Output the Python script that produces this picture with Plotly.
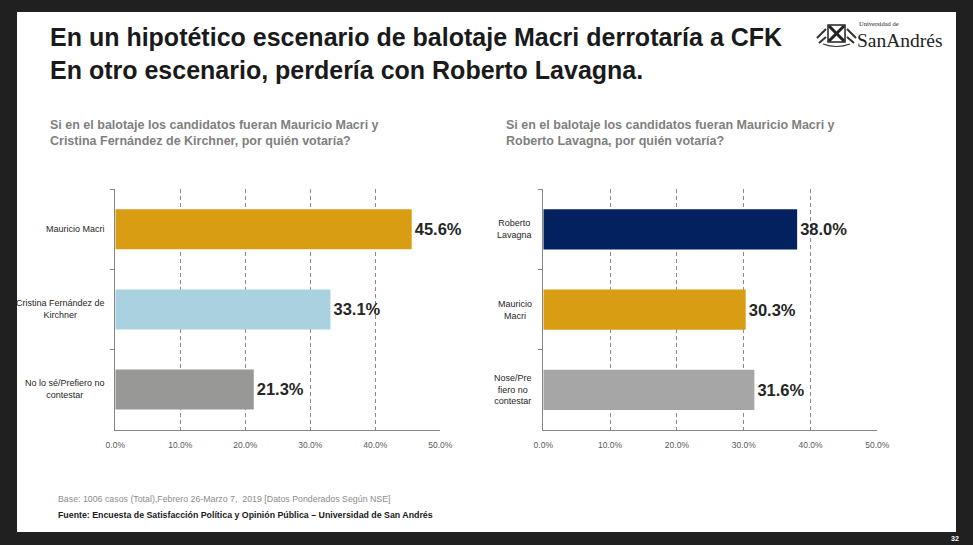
import plotly.graph_objects as go

W, H = 973, 545

# ---- data ----
left_categories = ["Mauricio Macri", "Cristina Fernández de<br>Kirchner", "No lo sé/Prefiero no<br>contestar"]
left_values = [45.6, 33.1, 21.3]
left_colors = ["#D99D13", "#AAD1E0", "#989896"]

right_categories = ["Roberto<br>Lavagna", "Mauricio<br>Macri", "Nose/Pre<br>fiero no<br>contestar"]
right_values = [38.0, 30.3, 31.6]
right_colors = ["#03215E", "#D99D13", "#A6A6A6"]

x_ticks = [0, 10, 20, 30, 40, 50]
x_tick_labels = ["0.0%", "10.0%", "20.0%", "30.0%", "40.0%", "50.0%"]

title_line1 = "En un hipotético escenario de balotaje Macri derrotaría a CFK"
title_line2 = "En otro escenario, perdería con Roberto Lavagna."
left_question = "Si en el balotaje los candidatos fueran Mauricio Macri y<br>Cristina Fernández de Kirchner, por quién votaría?"
right_question = "Si en el balotaje los candidatos fueran Mauricio Macri y<br>Roberto Lavagna, por quién votaría?"
base_note = "Base: 1006 casos (Total),Febrero 26-Marzo 7,  2019 [Datos Ponderados Según NSE]"
source_note = "Fuente: Encuesta de Satisfacción Política y Opinión Pública – Universidad de San Andrés"
page_number = "32"

SANS = "Liberation Sans, Arial, sans-serif"
SERIF = "Liberation Serif, DejaVu Serif, serif"


def px(x):
    return x / W


def py(y):
    return 1 - y / H


fig = go.Figure()

fig.add_trace(go.Bar(
    y=left_categories, x=left_values, orientation="h",
    marker=dict(color=left_colors, line=dict(width=0)),
    text=[f"{v:.1f}%" for v in left_values], textposition="outside",
    textfont=dict(family=SANS, size=16.5, color="#262626", weight="bold"),
    cliponaxis=False, constraintext="none", xaxis="x", yaxis="y",
    hoverinfo="skip", showlegend=False,
))
fig.add_trace(go.Bar(
    y=right_categories, x=right_values, orientation="h",
    marker=dict(color=right_colors, line=dict(width=0)),
    text=[f"{v:.1f}%" for v in right_values], textposition="outside",
    textfont=dict(family=SANS, size=16.5, color="#262626", weight="bold"),
    cliponaxis=False, constraintext="none", xaxis="x2", yaxis="y2",
    hoverinfo="skip", showlegend=False,
))

xaxis_common = dict(
    range=[0, 50], tickvals=x_ticks, ticktext=x_tick_labels,
    showgrid=True, gridcolor="#8A8A8A", gridwidth=1, griddash="4px,3px",
    zeroline=False, showline=True, linecolor="#868686", linewidth=1,
    ticks="", ticklabelstandoff=7, automargin=False,
    tickfont=dict(family=SANS, size=8.5, color="#595959"),
    fixedrange=True,
)
yaxis_common = dict(
    type="category", autorange="reversed", showticklabels=False,
    ticks="outside", tickson="boundaries", ticklen=4, tickcolor="#868686",
    showline=True, linecolor="#868686", linewidth=1, showgrid=False,
    zeroline=False, fixedrange=True, automargin=False,
)

fig.update_layout(
    width=W, height=H, margin=dict(l=0, r=0, t=0, b=0, pad=0, autoexpand=False),
    paper_bgcolor="#202020", plot_bgcolor="rgba(0,0,0,0)",
    bargap=0.5,
    xaxis=dict(domain=[px(115.3), px(440.3)], anchor="y", **xaxis_common),
    yaxis=dict(domain=[py(429.5), py(189.3)], anchor="x", **yaxis_common),
    xaxis2=dict(domain=[px(543.3), px(877.3)], anchor="y2", **xaxis_common),
    yaxis2=dict(domain=[py(430), py(189.3)], anchor="x2", **yaxis_common),
    font=dict(family=SANS),
)

shapes = [
    dict(type="rect", xref="paper", yref="paper", x0=px(17), x1=px(956), y0=py(532), y1=py(12),
         fillcolor="white", line=dict(width=0), layer="below"),
    # logo emblem (decorative)
    dict(type="rect", xref="paper", yref="paper", x0=px(828), x1=px(845), y0=py(42), y1=py(25),
         fillcolor="white", line=dict(color="#222", width=1.5)),
    dict(type="line", xref="paper", yref="paper", x0=px(829), x1=px(844), y0=py(41), y1=py(26),
         line=dict(color="#222", width=3)),
    dict(type="line", xref="paper", yref="paper", x0=px(829), x1=px(844), y0=py(26), y1=py(41),
         line=dict(color="#222", width=3)),
    dict(type="path", xref="paper", yref="paper",
         path=f"M {px(817)} {py(38)} L {px(826)} {py(29)} M {px(819)} {py(43)} L {px(826)} {py(37)} "
              f"M {px(856)} {py(38)} L {px(847)} {py(29)} M {px(854)} {py(43)} L {px(847)} {py(37)}",
         line=dict(color="#333", width=2)),
    dict(type="path", xref="paper", yref="paper",
         path=f"M {px(823)} {py(44)} Q {px(836.5)} {py(49)} {px(850)} {py(44)}",
         line=dict(color="#333", width=1.2)),
]
fig.update_layout(shapes=shapes)

ann = []
ann.append(dict(text=f"<b>{title_line1}</b>", x=px(48), y=py(37), xref="paper", yref="paper",
                xanchor="left", yanchor="middle", showarrow=False,
                font=dict(family=SANS, size=25, color="#1A1A1A")))
ann.append(dict(text=f"<b>{title_line2}</b>", x=px(48), y=py(70), xref="paper", yref="paper",
                xanchor="left", yanchor="middle", showarrow=False,
                font=dict(family=SANS, size=25, color="#1A1A1A")))
ann.append(dict(text=f"<b>{left_question}</b>", x=px(48), y=py(133), xref="paper", yref="paper",
                xanchor="left", yanchor="middle", align="left", showarrow=False,
                font=dict(family=SANS, size=12.5, color="#7F7F7F")))
ann.append(dict(text=f"<b>{right_question}</b>", x=px(504), y=py(133), xref="paper", yref="paper",
                xanchor="left", yanchor="middle", align="left", showarrow=False,
                font=dict(family=SANS, size=12.5, color="#7F7F7F")))
for c in left_categories:
    ann.append(dict(text=c, x=0, y=c, xref="x domain", yref="y", xanchor="right", yanchor="middle",
                    xshift=-8, align="center", showarrow=False,
                    font=dict(family=SANS, size=9, color="#262626")))
for c in right_categories:
    ann.append(dict(text=c, x=0, y=c, xref="x2 domain", yref="y2", xanchor="right", yanchor="middle",
                    xshift=-9, align="center", showarrow=False,
                    font=dict(family=SANS, size=9, color="#262626")))
ann.append(dict(text=base_note, x=px(56), y=py(499), xref="paper", yref="paper",
                xanchor="left", yanchor="middle", showarrow=False,
                font=dict(family=SANS, size=8.8, color="#8C8C8C")))
ann.append(dict(text=f"<b>{source_note}</b>", x=px(56), y=py(515), xref="paper", yref="paper",
                xanchor="left", yanchor="middle", showarrow=False,
                font=dict(family=SANS, size=8.8, color="#1A1A1A")))
ann.append(dict(text=f"<b>{page_number}</b>", x=px(955), y=py(538), xref="paper", yref="paper",
                xanchor="center", yanchor="middle", showarrow=False,
                font=dict(family=SANS, size=7, color="#FFFFFF")))
ann.append(dict(text="Universidad de", x=px(857), y=py(23.5), xref="paper", yref="paper",
                xanchor="left", yanchor="middle", showarrow=False,
                font=dict(family=SERIF, size=6.5, color="#222")))
ann.append(dict(text="SanAndrés", x=px(855), y=py(40), xref="paper", yref="paper",
                xanchor="left", yanchor="middle", showarrow=False,
                font=dict(family=SERIF, size=19.5, color="#222")))
fig.update_layout(annotations=ann)

fig.write_html("out.html")
